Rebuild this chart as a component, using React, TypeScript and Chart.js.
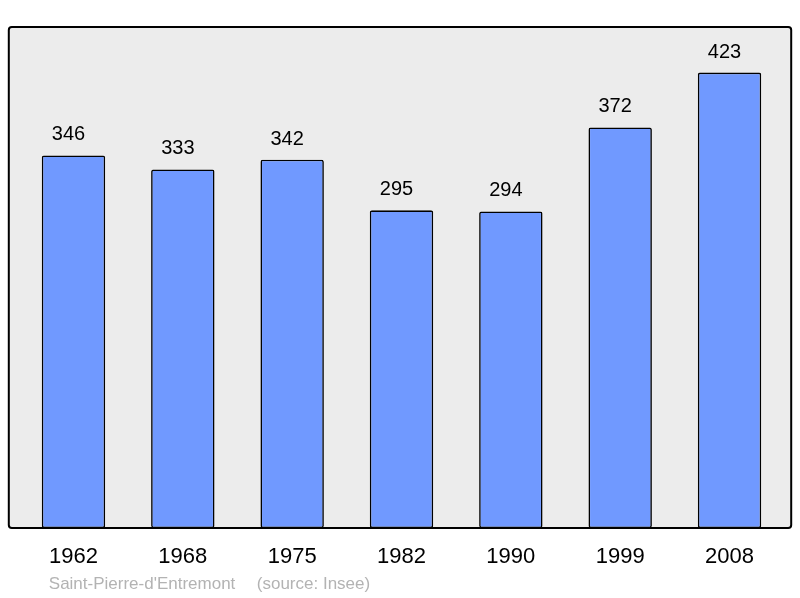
import React, { useEffect, useRef } from "react";
import { Chart, registerables } from "chart.js";

Chart.register(...registerables);

const years = ["1962", "1968", "1975", "1982", "1990", "1999", "2008"];
const population = [346, 333, 342, 295, 294, 372, 423];
const placeName = "Saint-Pierre-d'Entremont";
const sourceText = "(source: Insee)";

const FONT = '"Liberation Sans", Arial, sans-serif';

const framePlugin = {
  id: "frame",
  beforeDraw(chart: any) {
    const { ctx, chartArea } = chart;
    const x0 = chartArea.left - 10;
    const x1 = chartArea.right + 7;
    const y0 = chartArea.top;
    const y1 = chartArea.bottom;
    ctx.save();
    ctx.fillStyle = "#ececec";
    ctx.beginPath();
    ctx.roundRect(x0, y0, x1 - x0, y1 - y0, 3);
    ctx.fill();
    ctx.restore();
  },
  afterDatasetsDraw(chart: any) {
    const { ctx, chartArea } = chart;
    const x0 = chartArea.left - 10;
    const x1 = chartArea.right + 7;
    const y0 = chartArea.top;
    const y1 = chartArea.bottom;
    ctx.save();
    ctx.strokeStyle = "#000";
    ctx.lineWidth = 2;
    ctx.beginPath();
    ctx.roundRect(x0, y0, x1 - x0, y1 - y0, 3);
    ctx.stroke();

    // value labels
    const meta = chart.getDatasetMeta(0);
    ctx.fillStyle = "#000";
    ctx.font = `20px ${FONT}`;
    ctx.textAlign = "center";
    ctx.textBaseline = "alphabetic";
    meta.data.forEach((bar: any, i: number) => {
      ctx.fillText(String(population[i]), bar.x - 5, bar.y - 15);
    });

    // source line
    ctx.fillStyle = "#b3b3b3";
    ctx.font = `17px ${FONT}`;
    ctx.textAlign = "left";
    ctx.fillText(placeName, x0 + 40, 589);
    ctx.fillText(sourceText, x0 + 248, 589);
    ctx.restore();
  },
};

export default function App() {
  const ref = useRef<HTMLCanvasElement>(null);
  useEffect(() => {
    if (!ref.current) return;
    const chart = new Chart(ref.current, {
      type: "bar",
      data: {
        labels: years,
        datasets: [
          {
            data: population,
            backgroundColor: "rgb(112,153,255)",
            borderColor: "#000",
            borderWidth: 1.6,
            borderRadius: 2,
            borderSkipped: false,
            barPercentage: 0.58,
            categoryPercentage: 1,
          },
        ],
      },
      options: {
        responsive: false,
        animation: false,
        devicePixelRatio: 1,
        layout: { padding: { top: 27, left: 18.8, right: 15.8, bottom: 0 } },
        plugins: { legend: { display: false }, tooltip: { enabled: false } },
        scales: {
          x: {
            grid: { display: false, drawTicks: false },
            border: { display: false },
            ticks: {
              color: "#000",
              font: { family: FONT, size: 22 },
              padding: 16,
            },
            afterFit: (s: any) => {
              s.height = 70;
            },
          },
          y: {
            display: false,
            min: 0,
            max: 465.3,
          },
        },
      },
      plugins: [framePlugin],
    });
    return () => chart.destroy();
  }, []);
  return (
    <div style={{ position: "fixed", left: 0, top: 0, width: 800, height: 598, background: "#fff" }}>
      <canvas ref={ref} width={800} height={598} style={{ display: "block" }} />
    </div>
  );
}
